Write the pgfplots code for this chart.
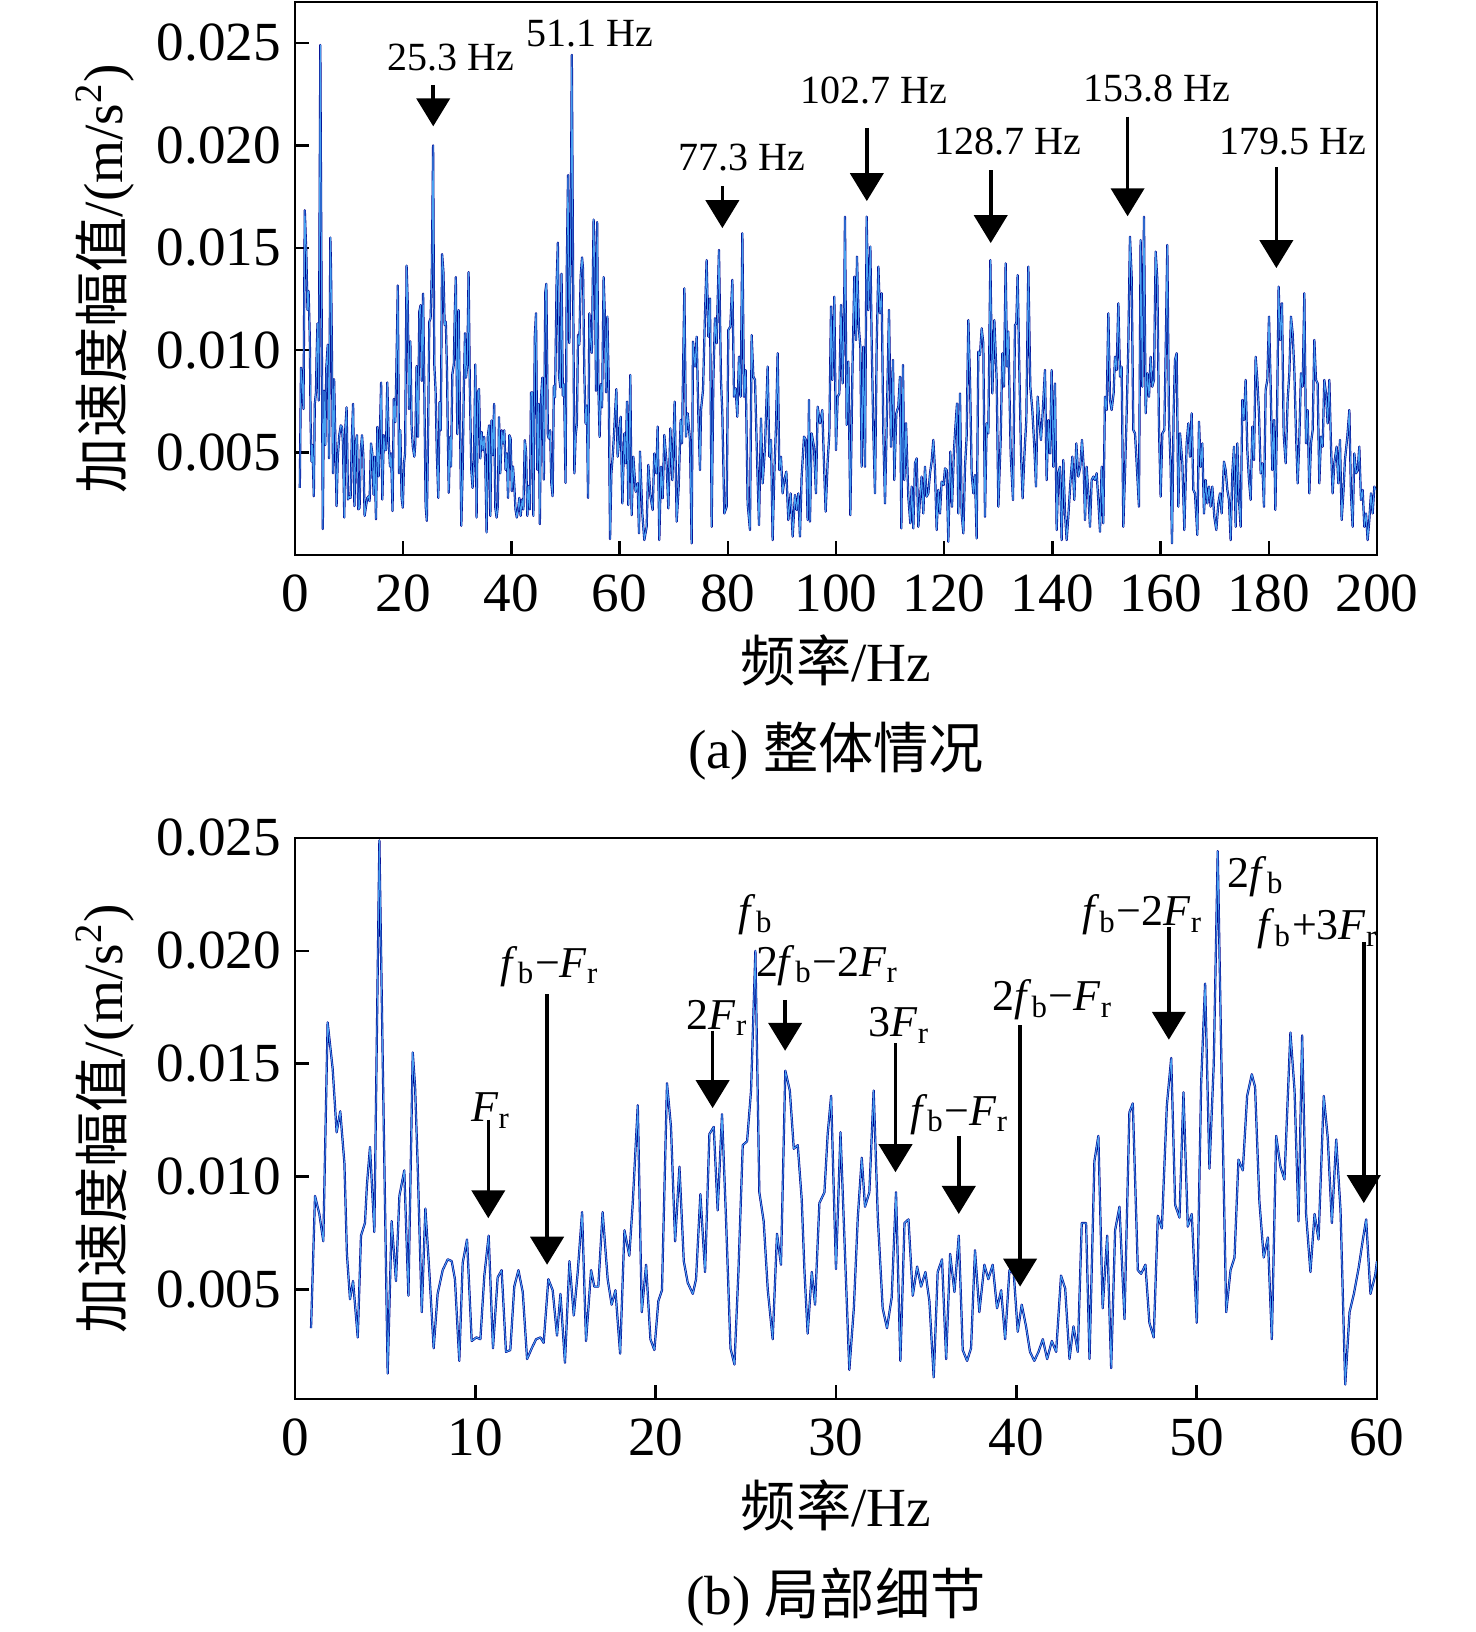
\documentclass[border=0pt]{standalone}
\usepackage{fontspec}
\setmainfont{Liberation Serif}
\newfontfamily\cjk{Noto Sans CJK SC}
\usepackage{pgfplots}
\pgfplotsset{compat=1.18}
\usepackage{pgfplotstable}
\usetikzlibrary{arrows.meta}
\definecolor{dkb}{RGB}{0,0,140}
\definecolor{ltb}{RGB}{70,160,240}
\newcommand{\lbfont}{\fontsize{13.8}{16}\selectfont}
\newcommand{\anfont}{\fontsize{10}{12}\selectfont}
\newcommand{\bnfont}{\fontsize{11}{13}\selectfont}
\newcommand{\fb}{\textit{f}\textsubscript{b}}
\newcommand{\Fr}{\textit{F}\textsubscript{r}}

\pgfplotstableread{
f a
0.89 3.28e-3
1.11 9.14e-3
1.35 8.34e-3
1.57 7.13e-3
1.81 16.83e-3
2.09 14.77e-3
2.31 11.96e-3
2.51 12.89e-3
2.74 10.59e-3
2.88 6.57e-3
3.05 4.56e-3
3.22 5.37e-3
3.48 2.87e-3
3.66 7.38e-3
3.88 7.94e-3
3.99 9.63e-3
4.16 11.31e-3
4.40 7.54e-3
4.68 24.90e-3
4.86 15.40e-3
5.14 1.27e-3
5.36 8.02e-3
5.60 5.37e-3
5.79 9.14e-3
6.06 10.27e-3
6.29 4.72e-3
6.53 15.50e-3
6.66 13.97e-3
6.80 10.59e-3
7.03 3.99e-3
7.23 8.58e-3
7.45 5.77e-3
7.69 2.39e-3
7.91 4.80e-3
8.19 5.85e-3
8.47 6.33e-3
8.69 6.25e-3
8.87 5.45e-3
9.11 1.83e-3
9.30 6.17e-3
9.54 7.21e-3
9.80 2.71e-3
10.06 2.87e-3
10.28 2.79e-3
10.50 5.61e-3
10.74 7.38e-3
10.98 2.39e-3
11.24 5.53e-3
11.46 5.85e-3
11.70 2.23e-3
11.94 2.31e-3
12.16 5.12e-3
12.39 5.85e-3
12.63 4.88e-3
12.87 1.91e-3
13.13 2.39e-3
13.37 2.79e-3
13.61 2.87e-3
13.79 2.63e-3
14.05 5.45e-3
14.29 4.96e-3
14.53 2.95e-3
14.72 4.80e-3
14.97 1.75e-3
15.22 6.25e-3
15.46 3.84e-3
15.68 5.77e-3
15.92 8.42e-3
16.14 2.71e-3
16.42 5.85e-3
16.60 5.12e-3
16.82 5.12e-3
17.06 8.42e-3
17.34 5.45e-3
17.56 4.32e-3
17.77 4.96e-3
18.03 2.15e-3
18.27 7.62e-3
18.54 6.49e-3
18.73 8.82e-3
19.01 13.16e-3
19.23 3.99e-3
19.47 6.09e-3
19.71 2.79e-3
19.93 2.31e-3
20.15 4.48e-3
20.35 4.96e-3
20.63 14.13e-3
20.85 12.20e-3
21.08 7.13e-3
21.32 10.43e-3
21.56 6.25e-3
21.78 5.29e-3
22.06 4.80e-3
22.24 5.45e-3
22.48 9.22e-3
22.74 5.77e-3
22.98 11.88e-3
23.22 12.20e-3
23.44 8.50e-3
23.68 12.76e-3
23.90 8.18e-3
24.15 2.39e-3
24.37 1.67e-3
24.59 5.77e-3
24.83 11.39e-3
25.07 11.56e-3
25.29 13.81e-3
25.53 20.00e-3
25.75 9.30e-3
25.99 8.02e-3
26.22 4.96e-3
26.49 2.79e-3
26.73 7.46e-3
26.95 6.09e-3
27.19 14.69e-3
27.44 13.81e-3
27.66 11.23e-3
27.88 11.39e-3
28.10 8.98e-3
28.25 5.85e-3
28.43 3.04e-3
28.66 5.77e-3
28.84 4.32e-3
29.08 8.82e-3
29.36 9.30e-3
29.54 11.88e-3
29.73 13.57e-3
30.00 5.90e-3
30.25 11.96e-3
30.50 6.57e-3
30.74 1.43e-3
30.99 4.16e-3
31.21 8.18e-3
31.43 10.83e-3
31.61 8.66e-3
31.85 9.30e-3
32.09 13.81e-3
32.32 8.18e-3
32.59 4.16e-3
32.83 3.28e-3
33.09 4.64e-3
33.33 9.30e-3
33.57 1.83e-3
33.80 7.94e-3
34.02 8.10e-3
34.26 4.72e-3
34.50 6.01e-3
34.72 5.12e-3
34.96 5.77e-3
35.18 4.48e-3
35.42 1.10e-3
35.64 5.77e-3
35.88 6.33e-3
36.11 1.91e-3
36.33 6.57e-3
36.57 4.88e-3
36.81 7.38e-3
37.03 2.31e-3
37.27 1.83e-3
37.49 2.39e-3
37.71 6.73e-3
37.95 3.99e-3
38.23 6.09e-3
38.45 5.45e-3
38.69 6.09e-3
38.93 4.16e-3
39.16 4.96e-3
39.38 2.79e-3
39.62 5.85e-3
39.86 5.69e-3
40.08 3.12e-3
40.30 4.32e-3
40.54 3.36e-3
40.76 2.23e-3
41.00 1.83e-3
41.23 2.23e-3
41.47 2.79e-3
41.71 1.91e-3
41.97 2.71e-3
42.21 2.23e-3
42.48 5.61e-3
42.71 5.04e-3
42.95 1.91e-3
43.17 3.36e-3
43.41 2.23e-3
43.63 7.94e-3
43.87 7.94e-3
44.06 1.91e-3
44.33 10.67e-3
44.55 11.80e-3
44.79 4.16e-3
45.04 7.38e-3
45.26 1.51e-3
45.48 7.62e-3
45.72 8.66e-3
46.00 3.68e-3
46.27 12.84e-3
46.46 13.24e-3
46.74 5.85e-3
46.92 5.69e-3
47.16 6.09e-3
47.38 3.52e-3
47.62 2.87e-3
47.85 8.26e-3
48.07 7.70e-3
48.35 13.16e-3
48.59 15.25e-3
48.81 8.74e-3
49.05 8.18e-3
49.27 13.73e-3
49.51 7.78e-3
49.73 8.34e-3
50.01 3.52e-3
50.25 14.13e-3
50.47 18.55e-3
50.71 10.35e-3
50.95 15.01e-3
51.17 24.42e-3
51.40 13.81e-3
51.64 3.99e-3
51.88 5.85e-3
52.10 6.41e-3
52.32 10.75e-3
52.56 10.27e-3
52.80 13.57e-3
53.06 14.53e-3
53.24 13.97e-3
53.48 8.90e-3
53.72 6.41e-3
53.95 7.30e-3
54.17 2.79e-3
54.41 11.80e-3
54.65 10.43e-3
54.87 9.87e-3
55.20 16.38e-3
55.43 13.81e-3
55.65 8.02e-3
55.85 16.25e-3
56.07 8.34e-3
56.31 5.77e-3
56.54 8.34e-3
56.76 7.21e-3
57.05 13.57e-3
57.27 11.72e-3
57.50 7.94e-3
57.74 11.64e-3
57.98 8.50e-3
58.24 0.78e-3
58.48 3.99e-3
58.72 4.80e-3
58.98 5.93e-3
59.22 7.21e-3
59.40 8.10e-3
59.64 4.80e-3
59.90 5.61e-3
60.00 6.25e-3
}\low

\pgfplotstableread{
f a
60.00 6.25e-3
60.20 6.75e-3
60.51 2.52e-3
60.88 5.94e-3
61.12 4.48e-3
61.37 7.49e-3
61.61 2.44e-3
61.98 8.79e-3
62.23 1.95e-3
62.54 4.80e-3
62.97 3.09e-3
63.34 3.50e-3
63.59 1.06e-3
63.77 5.05e-3
64.20 2.03e-3
64.57 0.73e-3
65.00 1.38e-3
65.31 4.40e-3
65.68 2.93e-3
66.11 2.20e-3
66.42 4.96e-3
66.79 3.99e-3
67.04 6.27e-3
67.34 0.73e-3
67.65 4.31e-3
67.96 2.77e-3
68.27 5.86e-3
68.70 4.40e-3
69.01 2.28e-3
69.38 6.18e-3
69.75 3.66e-3
70.18 7.49e-3
70.55 1.63e-3
70.92 3.34e-3
71.29 6.59e-3
71.53 5.45e-3
71.97 13.02e-3
72.27 5.78e-3
72.58 6.92e-3
73.01 5.62e-3
73.32 0.57e-3
73.57 10.42e-3
73.94 9.20e-3
74.25 10.66e-3
74.55 6.92e-3
74.86 4.15e-3
75.05 7.08e-3
75.42 8.06e-3
75.79 11.80e-3
76.09 14.40e-3
76.40 10.66e-3
76.71 12.53e-3
77.02 1.38e-3
77.33 8.55e-3
77.63 11.56e-3
77.94 10.34e-3
78.37 14.89e-3
78.74 8.55e-3
78.99 6.92e-3
79.36 2.03e-3
79.79 2.36e-3
80.10 10.99e-3
80.47 11.15e-3
80.84 13.43e-3
81.15 7.73e-3
81.45 8.14e-3
81.76 6.75e-3
82.07 9.68e-3
82.38 7.73e-3
82.69 15.71e-3
82.99 7.73e-3
83.30 9.03e-3
83.67 2.52e-3
84.10 1.22e-3
84.41 10.74e-3
84.72 8.71e-3
85.03 8.55e-3
85.40 4.80e-3
85.77 1.47e-3
86.14 6.67e-3
86.45 3.50e-3
86.88 5.29e-3
87.37 9.20e-3
87.68 4.80e-3
87.99 5.62e-3
88.29 0.73e-3
88.60 3.99e-3
88.91 6.27e-3
89.22 9.85e-3
89.53 4.15e-3
89.83 4.80e-3
90.14 3.01e-3
90.45 3.66e-3
90.82 4.07e-3
91.19 1.71e-3
91.62 3.01e-3
91.99 0.90e-3
92.42 2.93e-3
92.73 2.20e-3
93.04 3.01e-3
93.34 0.90e-3
93.65 3.83e-3
94.09 5.78e-3
94.45 5.62e-3
94.76 1.71e-3
95.01 7.57e-3
95.19 1.63e-3
95.50 5.94e-3
95.93 5.29e-3
96.30 3.01e-3
96.61 7.24e-3
97.04 6.43e-3
97.47 7.08e-3
97.78 4.48e-3
98.09 2.12e-3
98.46 4.56e-3
98.77 5.94e-3
99.08 12.13e-3
99.32 8.55e-3
99.69 12.61e-3
100.00 5.13e-3
100.31 7.73e-3
100.62 7.89e-3
100.92 12.21e-3
101.23 8.38e-3
101.54 12.94e-3
101.66 16.52e-3
101.97 6.35e-3
102.28 9.44e-3
102.65 1.95e-3
103.02 8.71e-3
103.39 13.59e-3
103.70 10.50e-3
103.88 14.57e-3
104.25 10.99e-3
104.50 10.17e-3
104.74 4.31e-3
105.05 10.17e-3
105.36 4.31e-3
105.67 16.52e-3
105.98 11.96e-3
106.35 15.06e-3
106.59 10.50e-3
106.90 6.10e-3
107.21 3.01e-3
107.52 10.17e-3
107.83 14.08e-3
108.13 11.80e-3
108.44 12.78e-3
108.75 5.94e-3
109.06 2.52e-3
109.43 7.08e-3
109.80 11.96e-3
110.17 5.29e-3
110.54 9.52e-3
110.78 3.66e-3
111.15 6.92e-3
111.52 7.24e-3
111.83 8.71e-3
112.08 1.30e-3
112.38 9.28e-3
112.63 3.66e-3
112.94 6.43e-3
113.37 2.85e-3
113.74 1.55e-3
113.99 3.34e-3
114.29 1.30e-3
114.60 4.48e-3
114.91 4.72e-3
115.22 1.38e-3
115.53 2.77e-3
115.83 3.83e-3
116.14 2.03e-3
116.45 4.31e-3
116.76 2.85e-3
117.07 3.01e-3
117.38 3.99e-3
117.68 4.56e-3
117.99 5.62e-3
118.30 4.15e-3
118.61 1.22e-3
118.91 3.18e-3
119.22 2.03e-3
119.53 3.58e-3
119.90 3.42e-3
120.15 4.23e-3
120.46 4.15e-3
120.76 0.65e-3
121.13 5.05e-3
121.44 2.36e-3
121.81 5.13e-3
122.12 6.43e-3
122.37 7.40e-3
122.61 2.03e-3
122.92 7.89e-3
123.23 2.03e-3
123.54 1.06e-3
123.85 4.31e-3
124.15 5.78e-3
124.46 11.47e-3
124.77 8.55e-3
125.08 3.99e-3
125.39 3.01e-3
125.69 3.91e-3
126.00 0.81e-3
126.31 9.93e-3
126.62 9.77e-3
126.93 11.07e-3
127.23 10.34e-3
127.54 1.87e-3
127.85 6.43e-3
128.16 5.94e-3
128.53 14.40e-3
128.90 7.89e-3
129.27 11.47e-3
129.70 8.55e-3
130.01 2.36e-3
130.44 5.62e-3
130.75 9.85e-3
131.05 8.22e-3
131.36 14.24e-3
131.61 9.20e-3
131.85 10.91e-3
132.29 4.96e-3
132.72 2.69e-3
133.09 11.23e-3
133.33 11.31e-3
133.58 13.67e-3
133.83 9.85e-3
134.20 4.96e-3
134.50 2.77e-3
134.81 4.80e-3
135.18 6.59e-3
135.55 14.08e-3
135.92 8.22e-3
136.29 7.08e-3
136.66 5.29e-3
136.97 3.34e-3
137.28 7.73e-3
137.58 6.59e-3
137.89 5.62e-3
138.20 6.92e-3
138.63 9.03e-3
138.94 3.66e-3
139.25 6.59e-3
139.56 4.96e-3
139.86 9.03e-3
140.17 4.31e-3
140.48 8.38e-3
140.79 1.22e-3
141.10 3.99e-3
141.40 4.31e-3
141.71 0.73e-3
142.02 4.64e-3
142.33 2.03e-3
142.64 0.73e-3
142.94 1.87e-3
143.32 3.50e-3
143.69 4.80e-3
144.05 2.69e-3
144.42 5.45e-3
144.79 3.83e-3
145.16 4.31e-3
145.47 5.62e-3
145.78 4.31e-3
146.03 1.71e-3
146.33 4.31e-3
146.64 3.01e-3
146.95 1.38e-3
147.26 3.66e-3
147.57 3.83e-3
147.87 3.66e-3
148.18 3.99e-3
148.49 2.69e-3
148.80 1.14e-3
149.11 4.31e-3
149.41 1.55e-3
149.72 7.73e-3
150.03 7.08e-3
150.34 11.80e-3
150.65 7.57e-3
150.95 7.08e-3
151.32 7.89e-3
151.57 9.68e-3
151.88 9.03e-3
152.19 12.29e-3
152.50 8.71e-3
152.80 9.20e-3
153.11 1.38e-3
153.42 3.99e-3
153.73 6.92e-3
154.03 10.17e-3
154.34 15.54e-3
154.65 13.59e-3
154.96 6.10e-3
155.27 5.94e-3
155.58 4.48e-3
156.00 2.36e-3
156.31 15.38e-3
156.62 8.22e-3
156.93 16.52e-3
157.24 6.92e-3
157.55 8.87e-3
157.86 7.73e-3
158.16 9.68e-3
158.47 8.22e-3
158.78 8.55e-3
159.09 14.81e-3
159.40 13.43e-3
159.70 6.27e-3
160.01 2.85e-3
160.32 5.94e-3
160.69 6.10e-3
160.94 9.85e-3
161.24 15.14e-3
161.55 6.59e-3
161.86 4.31e-3
162.11 0.57e-3
162.41 6.92e-3
162.66 9.52e-3
162.97 9.85e-3
163.28 2.36e-3
163.59 5.94e-3
164.02 4.48e-3
164.39 1.22e-3
164.82 5.45e-3
165.13 6.43e-3
165.43 4.80e-3
165.74 6.92e-3
166.05 3.18e-3
166.36 3.01e-3
166.79 0.98e-3
167.10 6.51e-3
167.41 4.31e-3
167.71 5.45e-3
168.02 2.03e-3
168.33 3.66e-3
168.64 2.52e-3
168.95 3.34e-3
169.25 2.36e-3
169.56 3.34e-3
169.93 1.87e-3
170.30 1.22e-3
170.67 2.52e-3
170.98 3.01e-3
171.29 2.03e-3
171.72 4.56e-3
172.03 4.15e-3
172.34 3.18e-3
172.64 2.69e-3
172.95 0.73e-3
173.26 3.99e-3
173.57 5.29e-3
173.88 1.38e-3
174.18 5.45e-3
174.49 2.69e-3
174.80 1.38e-3
175.11 7.57e-3
175.42 6.59e-3
175.72 8.55e-3
176.03 5.13e-3
176.34 3.66e-3
176.65 2.69e-3
176.96 6.27e-3
177.26 4.64e-3
177.57 9.68e-3
177.88 8.55e-3
178.19 6.92e-3
178.50 3.99e-3
178.80 4.48e-3
179.11 2.36e-3
179.42 8.06e-3
179.73 8.55e-3
180.04 11.64e-3
180.35 8.22e-3
180.65 4.15e-3
180.96 6.59e-3
181.21 2.20e-3
181.52 6.75e-3
181.82 13.10e-3
182.13 10.50e-3
182.44 12.29e-3
182.75 5.94e-3
183.12 4.48e-3
183.49 7.57e-3
183.80 8.87e-3
184.10 11.64e-3
184.41 10.82e-3
184.72 9.03e-3
185.03 5.94e-3
185.34 3.50e-3
185.64 5.62e-3
185.95 8.87e-3
186.26 8.22e-3
186.57 12.78e-3
186.88 5.45e-3
187.18 7.08e-3
187.49 3.01e-3
187.80 5.45e-3
188.11 6.10e-3
188.42 10.50e-3
188.72 8.55e-3
189.03 8.38e-3
189.34 3.50e-3
189.65 5.78e-3
189.96 5.29e-3
190.26 8.55e-3
190.57 7.89e-3
190.88 6.43e-3
191.19 8.55e-3
191.50 5.29e-3
191.80 3.01e-3
192.11 4.48e-3
192.54 5.29e-3
192.85 3.50e-3
193.16 5.62e-3
193.47 1.71e-3
193.78 3.01e-3
194.08 4.64e-3
194.52 5.78e-3
194.89 7.08e-3
195.19 3.01e-3
195.50 1.38e-3
195.81 4.96e-3
196.12 3.99e-3
196.43 4.15e-3
196.73 5.29e-3
197.04 2.69e-3
197.35 3.18e-3
197.66 1.38e-3
197.97 2.03e-3
198.27 0.73e-3
198.58 1.71e-3
198.89 3.01e-3
199.20 2.03e-3
199.51 3.34e-3
199.75 3.18e-3
}\high

\pgfplotsset{
  common/.style={
    scale only axis, width=270.5pt,
    clip mode=individual,
    axis line style={line width=0.6pt, black},
    every tick/.style={line width=0.6pt, black},
    major tick length=3.6pt,
    tick align=inside,
    xtick pos=bottom, ytick pos=left,
    ticklabel style={font=\lbfont},
    xticklabel style={yshift=-1.5pt},
    label style={font=\lbfont},
    /pgf/number format/assume math mode=true,
    scaled y ticks=false,
    yticklabel style={/pgf/number format/fixed, /pgf/number format/fixed zerofill, /pgf/number format/precision=3},
    ytick={0.005,0.010,0.015,0.020,0.025},
    xlabel={{\cjk 频率}/Hz},
    ylabel={{\cjk 加速度幅值}/(m/s\textsuperscript{2})},
    xlabel style={at={(axis description cs:0.5,-0.19)}, anchor=center},
    ylabel style={at={(axis description cs:-0.1756,0.5)}, anchor=center},
  },
  dk/.style={dkb, line width=0.55pt, mark=none, line join=round},
  lt/.style={ltb, line width=0.25pt, mark=none, line join=round},
}
\tikzset{arr/.style={line width=0.9pt, -{Triangle[width=8.3pt,length=7pt]}}}

\begin{document}
\begin{tikzpicture}
\useasboundingbox (-73.75pt,-269.25pt) rectangle (295.25pt,138.75pt);
\begin{axis}[common, at={(0pt,0pt)}, anchor=south west, height=138.25pt,
  xmin=0, xmax=200, ymin=0, ymax=0.027, xtick={0,20,...,200}]
\addplot[dk] table {\low};
\addplot[dk] table {\high};
\addplot[lt] table {\low};
\addplot[lt] table {\high};
\draw[arr] (axis cs:25.55,0.02295) -- (axis cs:25.55,0.02093);
\draw[arr] (axis cs:79.0,0.01801) -- (axis cs:79.0,0.01596);
\draw[arr] (axis cs:105.7,0.02085) -- (axis cs:105.7,0.01728);
\draw[arr] (axis cs:128.6,0.01878) -- (axis cs:128.6,0.01523);
\draw[arr] (axis cs:153.9,0.0214) -- (axis cs:153.9,0.01654);
\draw[arr] (axis cs:181.4,0.01893) -- (axis cs:181.4,0.01401);
\node[font=\anfont] at (axis cs:28.8,0.0243) {25.3 Hz};
\node[font=\anfont] at (axis cs:54.5,0.02545) {51.1 Hz};
\node[font=\anfont] at (axis cs:82.6,0.01943) {77.3 Hz};
\node[font=\anfont] at (axis cs:107.0,0.0227) {102.7 Hz};
\node[font=\anfont] at (axis cs:131.7,0.02018) {128.7 Hz};
\node[font=\anfont] at (axis cs:159.3,0.0228) {153.8 Hz};
\node[font=\anfont] at (axis cs:184.5,0.02018) {179.5 Hz};
\end{axis}
\node[font=\lbfont] at (135.25pt,-49pt) {(a) {\cjk 整体情况}};

\begin{axis}[common, at={(0pt,-70.75pt)}, anchor=north west, height=140.25pt,
  xmin=0, xmax=60, ymin=0.00014, ymax=0.025, xtick={0,10,...,60}]
\addplot[dk] table {\low};
\addplot[lt] table {\low};
\draw[arr] (axis cs:10.72,0.01252) -- (axis cs:10.72,0.00815);
\draw[arr] (axis cs:13.98,0.01807) -- (axis cs:13.98,0.00609);
\draw[arr] (axis cs:23.16,0.01646) -- (axis cs:23.16,0.01303);
\draw[arr] (axis cs:27.18,0.01783) -- (axis cs:27.18,0.01557);
\draw[arr] (axis cs:33.30,0.0159) -- (axis cs:33.30,0.01019);
\draw[arr] (axis cs:36.81,0.0118) -- (axis cs:36.81,0.00834);
\draw[arr] (axis cs:40.21,0.0167) -- (axis cs:40.21,0.00512);
\draw[arr] (axis cs:48.46,0.02104) -- (axis cs:48.46,0.01606);
\draw[arr] (axis cs:59.27,0.0204) -- (axis cs:59.27,0.00882);
\node[font=\bnfont] at (axis cs:10.87,0.01292) {\Fr};
\node[font=\bnfont] at (axis cs:14.14,0.01931) {\fb−\Fr};
\node[font=\bnfont] at (axis cs:23.44,0.01702) {2\Fr};
\node[font=\bnfont] at (axis cs:25.57,0.0216) {\fb};
\node[font=\bnfont] at (axis cs:29.53,0.01935) {2\fb−2\Fr};
\node[font=\bnfont] at (axis cs:33.52,0.0167) {3\Fr};
\node[font=\bnfont] at (axis cs:36.85,0.01276) {\fb−\Fr};
\node[font=\bnfont] at (axis cs:42.02,0.01783) {2\fb−\Fr};
\node[font=\bnfont] at (axis cs:47.0,0.0216) {\fb−2\Fr};
\node[font=\bnfont] at (axis cs:53.3,0.02329) {2\fb};
\node[font=\bnfont] at (axis cs:56.72,0.02096) {\fb+3\Fr};
\end{axis}
\node[font=\lbfont] at (135.25pt,-260.5pt) {(b) {\cjk 局部细节}};
\end{tikzpicture}
\end{document}
